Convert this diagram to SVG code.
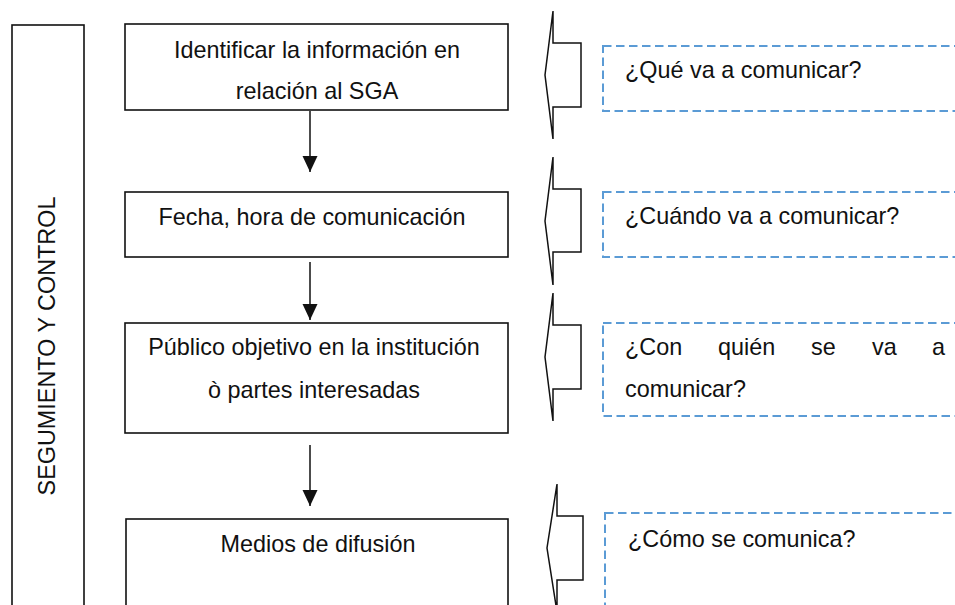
<svg xmlns="http://www.w3.org/2000/svg" width="955" height="605" viewBox="0 0 955 605">
<style>
text{font-family:"Liberation Sans",Arial,sans-serif;font-size:23.4px;fill:#111}
.box{fill:#fff;stroke:#111;stroke-width:1.6}
.dash{fill:none;stroke:#5B9BD5;stroke-width:2;stroke-dasharray:8.5 4.5}
.blk{fill:#fff;stroke:#111;stroke-width:1.5;stroke-linejoin:miter}
.conn{stroke:#111;stroke-width:1.5;fill:none}
.c{text-anchor:middle}
</style>
<defs>
<marker id="ah" viewBox="0 0 10 10" refX="10" refY="5" markerWidth="10" markerHeight="10" markerUnits="userSpaceOnUse" orient="auto">
<path d="M0,0 L10,5 L0,10 Z" fill="#111"/>
</marker>
<marker id="ah2" viewBox="0 0 16 16" refX="16" refY="8" markerWidth="16" markerHeight="16" markerUnits="userSpaceOnUse" orient="auto">
<path d="M0,0.5 L16,8 L0,15.5 Z" fill="#111"/>
</marker>
</defs>
<g id="seguimiento">
<rect class="box" x="12" y="25" width="72" height="600"/>
<text class="c" transform="translate(55,346) rotate(-90)">SEGUMIENTO Y CONTROL</text>
</g>
<g id="n1">
<rect class="box" x="125" y="24" width="383" height="86"/>
<text class="c" x="317" y="58">Identificar la información en</text>
<text class="c" x="317" y="99">relación al SGA</text>
</g>
<g id="n2">
<rect class="box" x="125" y="192" width="383" height="65"/>
<text class="c" x="312" y="225">Fecha, hora de comunicación</text>
</g>
<g id="n3">
<rect class="box" x="125" y="323" width="383" height="110"/>
<text class="c" x="314" y="355">Público objetivo en la institución</text>
<text class="c" x="314" y="398">ò partes interesadas</text>
</g>
<g id="n4">
<rect class="box" x="126" y="519" width="382" height="120"/>
<text class="c" x="318" y="552">Medios de difusión</text>
</g>
<g id="connectors">
<line class="conn" x1="310" y1="111" x2="310" y2="172" marker-end="url(#ah2)"/>
<line class="conn" x1="310" y1="262" x2="310" y2="320" marker-end="url(#ah2)"/>
<line class="conn" x1="310" y1="445" x2="310" y2="506" marker-end="url(#ah2)"/>
</g>
<g id="a1"><path class="blk" d="M553,11 L553,43 L581,43 L581,107 L553,107 L553,139 L545,75 Z"/></g>
<g id="a2"><path class="blk" d="M553,157 L553,189 L581,189 L581,252 L553,252 L553,285 L545,221 Z"/></g>
<g id="a3"><path class="blk" d="M553,293 L553,325 L581,325 L581,389 L553,389 L553,421 L545,357 Z"/></g>
<g id="a4"><path class="blk" d="M557,484 L557,516 L583,516 L583,580 L557,580 L557,612 L547,548 Z"/></g>
<g id="q1">
<rect class="dash" x="603" y="46" width="400" height="65"/>
<text x="625" y="78">¿Qué va a comunicar?</text>
</g>
<g id="q2">
<rect class="dash" x="603" y="192" width="400" height="65"/>
<text x="625" y="224">¿Cuándo va a comunicar?</text>
</g>
<g id="q3">
<rect class="dash" x="603" y="323" width="400" height="93"/>
<text y="355"><tspan x="625">¿Con</tspan><tspan x="718">quién</tspan><tspan x="811">se</tspan><tspan x="872">va</tspan><tspan x="932">a</tspan></text>
<text x="625" y="397">comunicar?</text>
</g>
<g id="q4">
<rect class="dash" x="605" y="513" width="400" height="130"/>
<text x="628" y="547">¿Cómo se comunica?</text>
</g>
</svg>
